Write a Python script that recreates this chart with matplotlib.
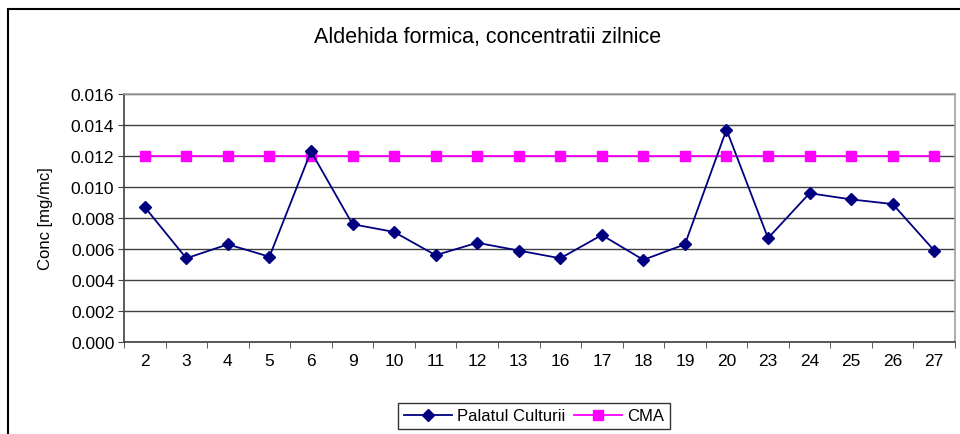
import matplotlib
matplotlib.use("Agg")
import matplotlib.pyplot as plt
from matplotlib.patches import Rectangle
import numpy as np

plt.rcParams['font.family'] = ['Liberation Sans', 'DejaVu Sans']

days = ["2", "3", "4", "5", "6", "9", "10", "11", "12", "13",
        "16", "17", "18", "19", "20", "23", "24", "25", "26", "27"]
palatul = [0.0087, 0.0054, 0.0063, 0.0055, 0.0123, 0.0076, 0.0071, 0.0056, 0.0064, 0.0059,
           0.0054, 0.0069, 0.0053, 0.0063, 0.0137, 0.0067, 0.0096, 0.0092, 0.0089, 0.0059]
cma = [0.012] * len(days)
yticks = [0.000, 0.002, 0.004, 0.006, 0.008, 0.010, 0.012, 0.014, 0.016]

fig = plt.figure(figsize=(9.6, 4.35), dpi=100)
ax = fig.add_axes([124/960, 1 - 343/435, (955 - 124)/960, (343 - 95)/435])

x = np.arange(len(days))
ax.plot(x, palatul, color='#000080', lw=1.3, marker='D', ms=6, label='Palatul Culturii', zorder=4)
ax.plot(x, cma, color='#FF00FF', lw=1.3, marker='s', ms=6.5, label='CMA', zorder=3)

ax.set_xlim(-0.5, len(days) - 0.5)
ax.set_ylim(0, 0.016)
ax.set_yticks(yticks)
ax.set_yticklabels([f"{v:.3f}" for v in yticks], fontsize=12.5)
ax.set_xticks(x)
ax.set_xticklabels(days, fontsize=12.5)
ax.tick_params(axis='x', length=0, pad=8)
ax.set_xticks(np.arange(-0.5, len(days)), minor=True)
ax.tick_params(axis='x', which='minor', length=4, direction='out', color='#404040')
ax.tick_params(axis='y', length=4, direction='out', color='#404040', pad=3)
ax.grid(axis='y', color='#404040', lw=1)
ax.set_axisbelow(True)
for s in ['left', 'bottom']:
    ax.spines[s].set_color('#404040')
    ax.spines[s].set_linewidth(1.2)
for s in ['top', 'right']:
    ax.spines[s].set_color('#A0A0A0')
    ax.spines[s].set_linewidth(1.2)

ax.set_ylabel('Conc [mg/mc]', fontsize=12, labelpad=13)
fig.text(488/960, 1 - 38/435, 'Aldehida formica, concentratii zilnice', fontsize=15.5,
         ha='center', va='center')

leg = fig.legend(loc='center', bbox_to_anchor=(534/960, 1 - 417/435), ncol=2, fontsize=12,
                 frameon=True, fancybox=False, edgecolor='black', handlelength=2.9,
                 columnspacing=0.5, handletextpad=0.3, borderpad=0.35)
leg.get_frame().set_linewidth(1.0)

fig.patches.append(Rectangle((8/960, -0.05), 1.1, 1 - 10/435 + 0.05, transform=fig.transFigure,
                             fill=False, edgecolor='black', lw=1.5, zorder=0))

fig.savefig('out.png', dpi=100)
